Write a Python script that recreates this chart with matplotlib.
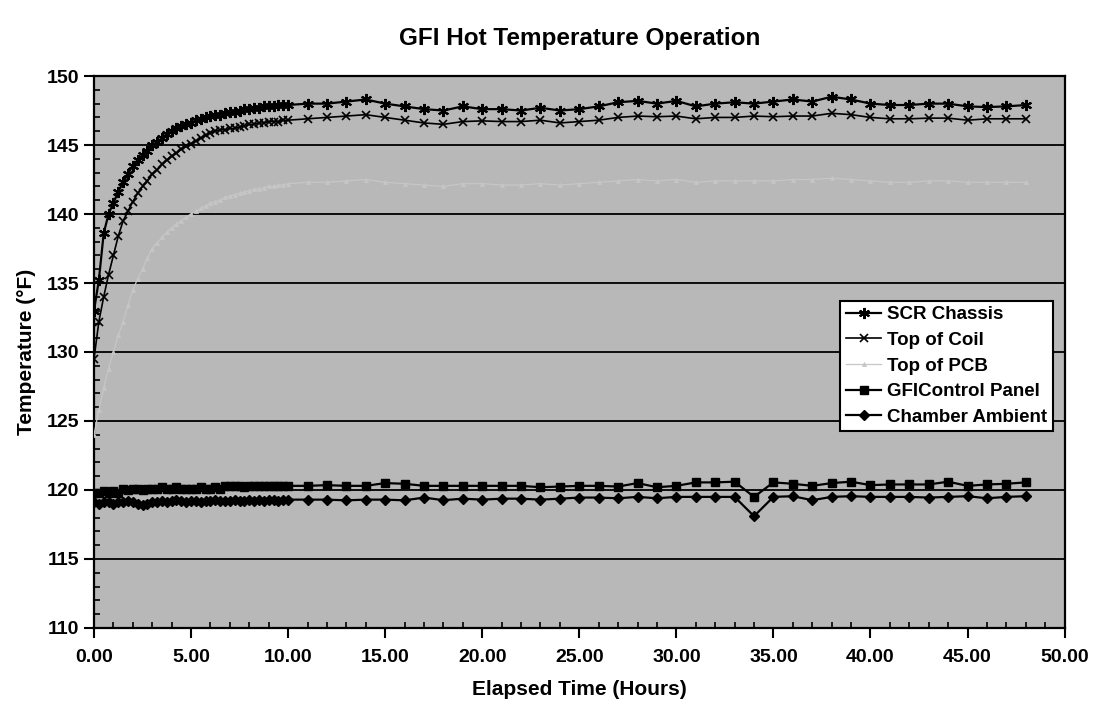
import matplotlib
matplotlib.use('Agg')
import matplotlib.pyplot as plt
from matplotlib.ticker import MultipleLocator, FormatStrFormatter

plt.rcParams['font.family'] = ['Liberation Sans', 'DejaVu Sans']

# quarter-hour readings for the first 10 hours, then hourly readings
t_early = [0.0, 0.25, 0.5, 0.75, 1.0, 1.25, 1.5, 1.75, 2.0, 2.25, 2.5, 2.75,
           3.0, 3.25, 3.5, 3.75, 4.0, 4.25, 4.5, 4.75, 5.0, 5.25, 5.5, 5.75,
           6.0, 6.25, 6.5, 6.75, 7.0, 7.25, 7.5, 7.75, 8.0, 8.25, 8.5, 8.75,
           9.0, 9.25, 9.5, 9.75, 10.0]
t_late = [11, 12, 13, 14, 15, 16, 17, 18, 19, 20, 21, 22, 23, 24, 25, 26, 27,
          28, 29, 30, 31, 32, 33, 34, 35, 36, 37, 38, 39, 40, 41, 42, 43, 44,
          45, 46, 47, 48]
hours = t_early + t_late

scr_chassis = [133.0, 135.2, 138.6, 140.0, 140.8, 141.6, 142.3, 142.9, 143.5, 143.9,
               144.3, 144.6, 145.0, 145.2, 145.5, 145.8, 146.0, 146.2, 146.4, 146.5,
               146.6, 146.8, 146.9, 147.0, 147.1, 147.2, 147.2, 147.3, 147.4, 147.4,
               147.5, 147.6, 147.6, 147.7, 147.7, 147.8, 147.8, 147.8, 147.9, 147.9,
               147.9,
               148.0, 148.0, 148.15, 148.3, 148.0, 147.8, 147.6, 147.5, 147.8, 147.6,
               147.6, 147.5, 147.7, 147.5, 147.6, 147.8, 148.1, 148.2, 148.0, 148.2,
               147.8, 148.0, 148.1, 148.0, 148.15, 148.3, 148.15, 148.5, 148.3, 148.0,
               147.9, 147.9, 148.0, 148.0, 147.8, 147.75, 147.8, 147.9]

top_of_coil = [129.5, 132.2, 134.0, 135.6, 137.0, 138.4, 139.5, 140.2, 140.9, 141.5,
               142.0, 142.4, 142.9, 143.2, 143.6, 143.9, 144.2, 144.4, 144.7, 144.9,
               145.1, 145.3, 145.5, 145.7, 145.9, 146.0, 146.1, 146.1, 146.2, 146.2,
               146.3, 146.4, 146.5, 146.5, 146.6, 146.6, 146.7, 146.7, 146.7, 146.8,
               146.8,
               146.9, 147.0, 147.1, 147.2, 147.0, 146.8, 146.6, 146.5, 146.7, 146.75,
               146.7, 146.7, 146.8, 146.6, 146.7, 146.8, 147.0, 147.1, 147.05, 147.1,
               146.9, 147.0, 147.0, 147.1, 147.05, 147.1, 147.1, 147.3, 147.2, 147.0,
               146.9, 146.9, 146.95, 146.95, 146.8, 146.9, 146.9, 146.9]

top_of_pcb = [124.0, 125.8, 127.4, 128.8, 130.0, 131.2, 132.2, 133.4, 134.5, 135.3,
              136.0, 136.8, 137.5, 137.9, 138.3, 138.7, 139.0, 139.3, 139.5, 139.8,
              140.0, 140.2, 140.4, 140.6, 140.8, 140.9, 141.0, 141.2, 141.3, 141.4,
              141.5, 141.6, 141.7, 141.8, 141.8, 141.9, 142.0, 142.0, 142.1, 142.1,
              142.2,
              142.3, 142.3, 142.4, 142.5, 142.3, 142.2, 142.1, 142.0, 142.2, 142.2,
              142.1, 142.1, 142.2, 142.1, 142.2, 142.3, 142.4, 142.5, 142.4, 142.5,
              142.3, 142.4, 142.4, 142.4, 142.4, 142.5, 142.5, 142.6, 142.5, 142.4,
              142.3, 142.3, 142.4, 142.4, 142.3, 142.3, 142.3, 142.3]

gfi_control_panel = [119.8, 119.8, 119.9, 119.8, 119.9, 119.8, 120.1, 120.0, 120.1, 120.1,
                     120.0, 120.1, 120.1, 120.1, 120.2, 120.1, 120.1, 120.2, 120.1, 120.1,
                     120.1, 120.1, 120.2, 120.1, 120.1, 120.2, 120.1, 120.3, 120.3, 120.3,
                     120.3, 120.2, 120.3, 120.3, 120.3, 120.3, 120.3, 120.3, 120.3, 120.3,
                     120.3,
                     120.3, 120.35, 120.3, 120.3, 120.5, 120.45, 120.3, 120.3, 120.3, 120.3,
                     120.3, 120.3, 120.2, 120.25, 120.3, 120.3, 120.25, 120.5, 120.2, 120.3,
                     120.55, 120.55, 120.6, 119.5, 120.55, 120.45, 120.3, 120.5, 120.6, 120.35,
                     120.4, 120.4, 120.4, 120.6, 120.3, 120.4, 120.45, 120.55]

chamber_ambient = [119.1, 119.0, 119.1, 119.1, 119.0, 119.1, 119.1, 119.2, 119.1, 119.0,
                   118.9, 119.0, 119.1, 119.1, 119.2, 119.1, 119.2, 119.3, 119.2, 119.1,
                   119.2, 119.2, 119.1, 119.2, 119.2, 119.3, 119.2, 119.2, 119.2, 119.3,
                   119.2, 119.2, 119.3, 119.2, 119.3, 119.2, 119.3, 119.3, 119.2, 119.3,
                   119.3,
                   119.3, 119.3, 119.25, 119.3, 119.3, 119.25, 119.45, 119.26, 119.37, 119.3,
                   119.37, 119.37, 119.3, 119.37, 119.45, 119.45, 119.4, 119.5, 119.4, 119.5,
                   119.5, 119.5, 119.5, 118.1, 119.5, 119.55, 119.26, 119.5, 119.55, 119.5,
                   119.5, 119.5, 119.45, 119.5, 119.55, 119.4, 119.5, 119.55]

fig = plt.figure(figsize=(10.98, 7.04), dpi=100)
ax = fig.add_axes([0.0856, 0.108, 0.884, 0.784])
ax.set_facecolor('#b8b8b8')

ax.plot(hours, top_of_pcb, '-', color='#c6c6c6', linewidth=0.9,
        marker='^', markersize=3, markeredgewidth=0.5, label='Top of PCB', zorder=3)
ax.plot(hours, top_of_coil, '-', color='black', linewidth=1.2,
        marker='x', markersize=6, markeredgewidth=1.2, label='Top of Coil', zorder=4)
ax.plot(hours, scr_chassis, '-', color='black', linewidth=1.6,
        marker=(6, 2, 0), markersize=8, markeredgewidth=1.5, label='SCR Chassis', zorder=5)
ax.plot(hours, gfi_control_panel, '-', color='black', linewidth=1.6,
        marker='s', markersize=6, label='GFIControl Panel', zorder=5)
ax.plot(hours, chamber_ambient, '-', color='black', linewidth=1.6,
        marker='D', markersize=5.5, label='Chamber Ambient', zorder=5)

ax.set_xlim(0, 50)
ax.set_ylim(110, 150)
ax.xaxis.set_major_locator(MultipleLocator(5))
ax.xaxis.set_minor_locator(MultipleLocator(1))
ax.yaxis.set_major_locator(MultipleLocator(5))
ax.yaxis.set_minor_locator(MultipleLocator(1))
ax.xaxis.set_major_formatter(FormatStrFormatter('%.2f'))
ax.tick_params(axis='both', which='major', direction='out', length=7, width=1.5,
               labelsize=14)
ax.tick_params(axis='x', which='major', pad=8)
ax.tick_params(axis='both', which='minor', direction='in', length=4, width=1.2)
for lab in ax.get_xticklabels() + ax.get_yticklabels():
    lab.set_fontweight('bold')

ax.grid(True, axis='y', which='major', color='black', linewidth=1.3)
ax.set_axisbelow(True)
for sp in ax.spines.values():
    sp.set_linewidth(1.6)

ax.set_title('GFI Hot Temperature Operation', fontsize=17.5, fontweight='bold', pad=22)
ax.set_xlabel('Elapsed Time (Hours)', fontsize=15, fontweight='bold', labelpad=10)
ax.set_ylabel('Temperature (°F)', fontsize=15, fontweight='bold', labelpad=8)

handles, labels = ax.get_legend_handles_labels()
order = ['SCR Chassis', 'Top of Coil', 'Top of PCB', 'GFIControl Panel', 'Chamber Ambient']
hmap = dict(zip(labels, handles))
leg = ax.legend([hmap[k] for k in order], order, loc='upper left',
                bbox_to_anchor=(0.759, 0.61), frameon=True,
                prop={'size': 13.5, 'weight': 'bold'},
                fancybox=False, edgecolor='black', framealpha=1, borderpad=0.3,
                handlelength=1.9, handletextpad=0.3, labelspacing=0.45)
leg.get_frame().set_linewidth(1.5)

fig.savefig('out.png', dpi=100, facecolor='white')
